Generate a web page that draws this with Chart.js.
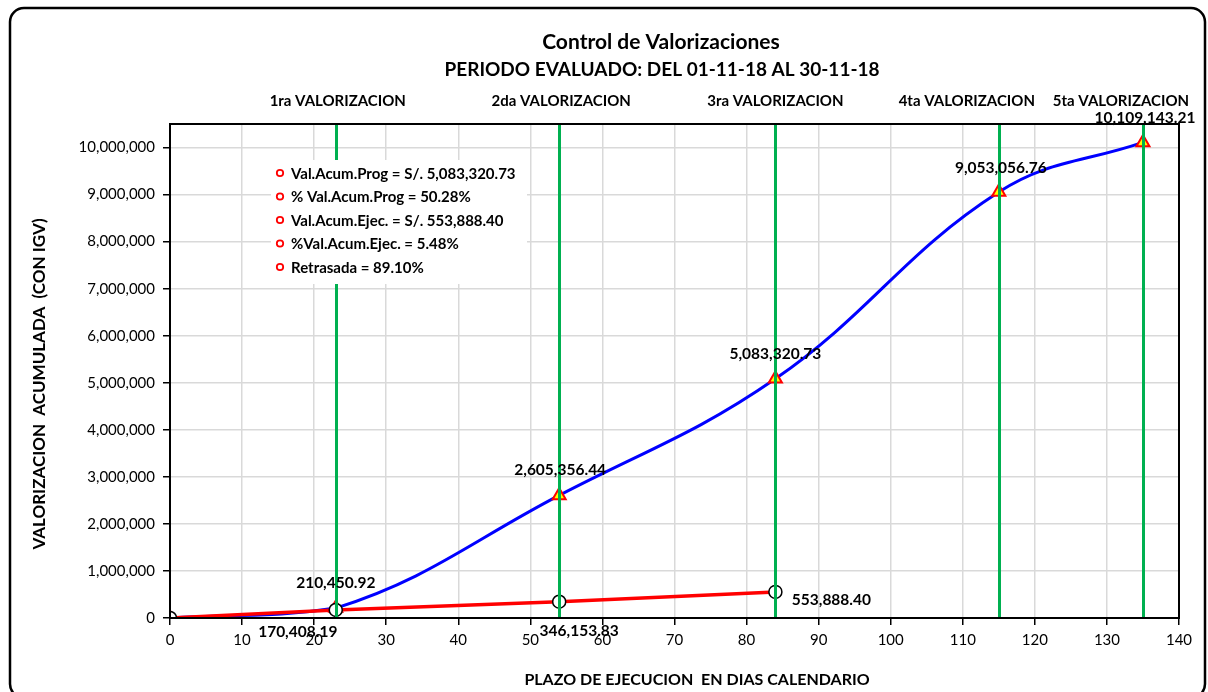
<!DOCTYPE html>
<html>
<head>
<meta charset="utf-8">
<script src="https://cdn.jsdelivr.net/npm/chart.js@4"></script>
<style>
html,body{margin:0;padding:0;background:#fff;}
canvas{display:block;}
</style>
</head>
<body>
<canvas id="c" width="1208" height="692"></canvas>
<script>
// ---- data ----
const progDays = [0, 23, 54, 84, 115, 135];
const progValues = [0, 210450.92, 2605356.44, 5083320.73, 9053056.76, 10109143.21];
const execDays = [0, 23, 54, 84];
const execValues = [0, 170408.19, 346153.83, 553888.40];
const valorizacionDays = [23, 54, 84, 115, 135];
const valorizacionNames = ['1ra VALORIZACION', '2da VALORIZACION', '3ra VALORIZACION', '4ta VALORIZACION', '5ta VALORIZACION'];
const summaryLines = [
  'Val.Acum.Prog = S/. 5,083,320.73',
  '% Val.Acum.Prog = 50.28%',
  'Val.Acum.Ejec. = S/. 553,888.40',
  '%Val.Acum.Ejec. = 5.48%',
  'Retrasada = 89.10%'
];
const titleLines = ['Control de Valorizaciones', 'PERIODO EVALUADO: DEL 01-11-18 AL 30-11-18'];
const xTitle = 'PLAZO DE EJECUCION  EN DIAS CALENDARIO';
const yTitle = 'VALORIZACION  ACUMULADA  (CON IGV)';
const xTicks = [0, 10, 20, 30, 40, 50, 60, 70, 80, 90, 100, 110, 120, 130, 140];
const yTicks = [0, 1000000, 2000000, 3000000, 4000000, 5000000, 6000000, 7000000, 8000000, 9000000, 10000000];
const yMax = 10500000;

// ---- styling / label offsets (pixels) ----
const FONT = 'Lato, "Open Sans", sans-serif';
const progLabelOffsets = [null, [0, -25], [1, -25], [0, -25], [2, -24], [2, -24]];
const execLabelOffsets = [null, [-38, 22], [20, 29], [56, 8]];
const valLabelShift = [2, 2, 0, -32, -22];

function fmt(v, dec) {
  const s = v.toFixed(dec);
  const parts = s.split('.');
  parts[0] = parts[0].replace(/\B(?=(\d{3})+(?!\d))/g, ',');
  return parts.join('.');
}

const decor = {
  id: 'decor',
  beforeDraw(chart) {
    const ctx = chart.ctx;
    ctx.save();
    ctx.fillStyle = '#fff';
    ctx.fillRect(0, 0, chart.width, chart.height);
    ctx.restore();
  },
  afterDatasetsDraw(chart) {
    const ctx = chart.ctx;
    const xs = chart.scales.x, ys = chart.scales.y;
    const ca = chart.chartArea;
    ctx.save();
    // green valorizacion lines
    ctx.strokeStyle = '#00B050';
    ctx.lineWidth = 3;
    valorizacionDays.forEach(d => {
      const px = Math.round(xs.getPixelForValue(d)) + 0.5;
      ctx.beginPath();
      ctx.moveTo(px, ca.top);
      ctx.lineTo(px, ca.bottom);
      ctx.stroke();
    });
    // plot border
    ctx.strokeStyle = '#000';
    ctx.lineWidth = 2;
    ctx.strokeRect(ca.left, ca.top, ca.right - ca.left, ca.bottom - ca.top);

    // summary box
    const bx = ca.left + 101, by = ca.top + 36;
    ctx.fillStyle = '#fff';
    ctx.fillRect(bx, by, 256, 124);
    ctx.font = 'bold 15px ' + FONT;
    ctx.textBaseline = 'middle';
    ctx.textAlign = 'left';
    summaryLines.forEach((t, i) => {
      const cy = by + 13 + i * 23.5;
      ctx.beginPath();
      ctx.strokeStyle = '#ff0000';
      ctx.lineWidth = 1.8;
      ctx.arc(bx + 9, cy, 3.2, 0, Math.PI * 2);
      ctx.stroke();
      ctx.fillStyle = '#000';
      ctx.fillText(t, bx + 20, cy + 1);
    });

    // data labels
    ctx.font = 'bold 15.5px ' + FONT;
    ctx.textAlign = 'center';
    ctx.textBaseline = 'middle';
    ctx.fillStyle = '#000';
    progDays.forEach((d, i) => {
      const o = progLabelOffsets[i];
      if (!o) return;
      const px = xs.getPixelForValue(d), py = ys.getPixelForValue(progValues[i]);
      ctx.fillText(fmt(progValues[i], 2), px + o[0], py + o[1]);
    });
    execDays.forEach((d, i) => {
      const o = execLabelOffsets[i];
      if (!o) return;
      const px = xs.getPixelForValue(d), py = ys.getPixelForValue(execValues[i]);
      ctx.fillText(fmt(execValues[i], 2), px + o[0], py + o[1]);
    });

    // valorizacion labels above plot
    ctx.font = 'bold 15px ' + FONT;
    valorizacionDays.forEach((d, i) => {
      const px = xs.getPixelForValue(d) + valLabelShift[i];
      ctx.fillText(valorizacionNames[i], px, ca.top - 23);
    });

    // titles
    ctx.font = 'bold 21px ' + FONT;
    ctx.fillText(titleLines[0], 661, 42);
    ctx.font = 'bold 19px ' + FONT;
    ctx.fillText(titleLines[1], 662, 70);

    // axis titles
    ctx.font = 'bold 16px ' + FONT;
    ctx.fillText(xTitle, 697, 680);
    ctx.save();
    ctx.font = 'bold 17px ' + FONT;
    ctx.translate(40, 384);
    ctx.rotate(-Math.PI / 2);
    ctx.fillText(yTitle, 0, 0);
    ctx.restore();

    // outer rounded border
    ctx.strokeStyle = '#000';
    ctx.lineWidth = 2.5;
    ctx.beginPath();
    ctx.roundRect(10, 8, 1195, 690, 14);
    ctx.stroke();
    ctx.restore();
  }
};

new Chart(document.getElementById('c'), {
  type: 'line',
  data: {
    datasets: [
      {
        label: 'Ejecutado',
        data: execDays.map((d, i) => ({ x: d, y: execValues[i] })),
        borderColor: '#ff0000',
        borderWidth: 3.5,
        tension: 0,
        pointStyle: 'circle',
        pointRadius: 6.5,
        pointBackgroundColor: '#ffffff',
        pointBorderColor: '#000000',
        pointBorderWidth: 1.5
      },
      {
        label: 'Programado',
        data: progDays.map((d, i) => ({ x: d, y: progValues[i] })),
        borderColor: '#0000ff',
        borderWidth: 3,
        tension: 0.4,
        pointStyle: 'triangle',
        pointRadius: 7.5,
        pointBackgroundColor: '#ffff00',
        pointBorderColor: '#ff0000',
        pointBorderWidth: 2
      }
    ]
  },
  options: {
    responsive: false,
    animation: false,
    devicePixelRatio: 1,
    layout: { padding: { top: 124, right: 29, left: 0, bottom: 0 } },
    plugins: { legend: { display: false }, tooltip: { enabled: false }, title: { display: false } },
    scales: {
      x: {
        type: 'linear',
        min: xTicks[0], max: xTicks[xTicks.length - 1],
        ticks: { color: '#000', font: { family: FONT, size: 15 }, padding: 6, maxRotation: 0, autoSkip: false },
        grid: { color: '#d9d9d9', lineWidth: 1.5, tickLength: 7, tickColor: '#000', tickWidth: 1.5 },
        border: { color: '#000', width: 2 },
        afterBuildTicks(s) { s.ticks = xTicks.map(v => ({ value: v })); },
        afterFit(s) { s.height = 74; }
      },
      y: {
        type: 'linear',
        min: yTicks[0], max: yMax,
        ticks: { color: '#000', font: { family: FONT, size: 15 }, padding: 8, autoSkip: false, callback: v => fmt(v, 0) },
        grid: { color: '#d9d9d9', lineWidth: 1.5, tickLength: 7, tickColor: '#000', tickWidth: 1.5 },
        border: { color: '#000', width: 2 },
        afterBuildTicks(s) { s.ticks = yTicks.map(v => ({ value: v })); },
        afterFit(s) { s.width = 170; }
      }
    }
  },
  plugins: [decor]
});
</script>
</body>
</html>
